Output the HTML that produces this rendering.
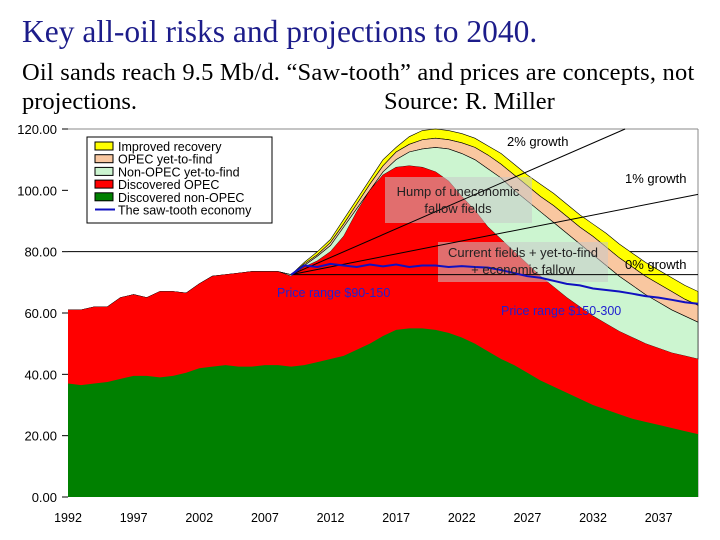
<!DOCTYPE html>
<html><head><meta charset="utf-8"><style>
body{margin:0;width:720px;height:540px;overflow:hidden;background:#fff;font-family:"Liberation Sans",sans-serif}
.t{position:absolute;font-family:"Liberation Serif",serif;white-space:nowrap}
</style></head><body>
<div class="t" style="left:22px;top:14px;font-size:31.5px;color:#1c1c8a">Key all-oil risks and projections to 2040.</div>
<div class="t" style="left:22px;top:58px;font-size:24.5px;line-height:29px;color:#000;letter-spacing:0.2px">Oil sands reach 9.5 Mb/d. “Saw-tooth” and prices are concepts, not</div>
<div class="t" style="left:22px;top:87px;font-size:24.5px;line-height:29px;color:#000">projections.</div>
<div class="t" style="left:384px;top:87px;font-size:24.5px;line-height:29px;color:#000">Source: R. Miller</div>
<svg id="c" width="720" height="540" style="position:absolute;left:0;top:0" xmlns="http://www.w3.org/2000/svg">
<rect x="0" y="114" width="720" height="426" fill="#fff"/>
</svg>
<script>
const years=[1992,1993,1994,1995,1996,1997,1998,1999,2000,2001,2002,2003,2004,2005,2006,2007,2008,2009,2010,2011,2012,2013,2014,2015,2016,2017,2018,2019,2020,2021,2022,2023,2024,2025,2026,2027,2028,2029,2030,2031,2032,2033,2034,2035,2036,2037,2038,2039,2040];
const nonOpec=[37,36.5,37,37.5,38.5,39.5,39.5,39,39.5,40.5,42,42.5,43,42.5,42.5,43,43,42.5,43,44,45,46,48,50,52.5,54.5,55,55,54.5,53.5,52,50,47.5,45,43,40.5,38,36,34,32,30,28.5,27,25.5,24.5,23.5,22.5,21.5,20.5];
const opecTop=[61,61,62,62,65,66,65,67,67,66.5,69.5,72,72.5,73,73.5,73.5,73.5,72,75,77,80,85,93,100,105,107.5,108,107.5,106,103,98,93.5,88,84,80,76,72,68.5,65,62,59,56.5,54,52,50,48.5,47,46,45];
const nonOpecYtfTop=[61,61,62,62,65,66,65,67,67,66.5,69.5,72,72.5,73,73.5,73.5,73.5,72.5,75.5,78.5,82,88,94,100,106,110,112.5,113.5,114,113.5,112,110,107,104,100,96.5,93,89.5,86,82.5,79,75.5,72,69,66,63.5,61,59,57];
const opecYtfTop=[61,61,62,62,65,66,65,67,67,66.5,69.5,72,72.5,73,73.5,73.5,73.5,72.5,76,79,83,89,95.5,102,108,112.5,115,116.5,117,116.5,115.5,114,111.5,108.5,105,101.5,98,95,91.5,88,85,81.5,78,75,72,69.5,67,64.5,62.5];
const recoveryTop=[61,61,62,62,65,66,65,67,67,66.5,69.5,72,72.5,73,73.5,73.5,73.5,72.5,76.5,80,84,90.5,97,103.5,110,114,117.5,119.5,120,119.5,118.5,117,114.5,112,108.5,105,102,99,95.5,92,89,86,82.5,79.5,76.5,74,71.5,69,67];
const sawYears=[2009,2010,2011,2012,2013,2014,2015,2016,2017,2018,2019,2020,2021,2022,2023,2024,2025,2026,2027,2028,2029,2030,2031,2032,2033,2034,2035,2036,2037,2038,2039,2040];
const sawValues=[72.5,75.5,75,76,75.5,75,75.8,75.2,75.8,75,75.5,75.5,75,75.3,75,74.8,74,73,72,71.5,70.5,69.5,69,68,67.5,67,66.3,65.5,65,64.3,63.5,63];
const yTicks=[0,20,40,60,80,100,120];
const xTicks=[1992,1997,2002,2007,2012,2017,2022,2027,2032,2037];
const growthRates=[0,1,2];
const growthBase=[2009,72.5];

const X0=68,X1=698,Y0=497,Y1=129;
const x=y=>X0+(y-1992)*(X1-X0)/(2040-1992);
const yv=v=>Y0-v*(Y0-Y1)/120;
const svg=document.getElementById('c');const NS='http://www.w3.org/2000/svg';
function mk(t,a){const e=document.createElementNS(NS,t);for(const k in a)e.setAttribute(k,a[k]);svg.appendChild(e);return e;}
function area(top,bot,fill,name){let d='M'+years.map((yr,i)=>x(yr)+','+yv(top[i])).join('L');
 for(let i=years.length-1;i>=0;i--)d+='L'+x(years[i])+','+yv(bot?bot[i]:0);
 const p=mk('path',{d:d+'Z',fill:fill,stroke:bot?'#000':'none','stroke-width':bot?0.6:0});
 }
[80,120].forEach(v=>{const l=mk('line',{x1:X0,x2:X1,y1:yv(v),y2:yv(v),stroke:v==120?'#888':'#000','stroke-width':1});});
mk('line',{x1:X1,x2:X1,y1:Y1,y2:Y0,stroke:'#888'});
area(recoveryTop,opecYtfTop,'#ffff00','area-improved-recovery');
area(opecYtfTop,nonOpecYtfTop,'#f9c7a0','area-opec-yet-to-find');
area(nonOpecYtfTop,opecTop,'#ccf5d0','area-non-opec-yet-to-find');
area(opecTop,null,'#ff0000','area-discovered-opec');
area(nonOpec,null,'#008000','area-discovered-non-opec');
[[385,177,147,46],[438,242,170,40]].forEach((b,i)=>{const r=mk('rect',{x:b[0],y:b[1],width:b[2],height:b[3],fill:'#c8c8c8','fill-opacity':0.55});});
growthRates.forEach(r=>{let ye=2040,ve=growthBase[1]*Math.pow(1+r/100,2040-growthBase[0]);
 if(ve>120){ye=growthBase[0]+Math.log(120/growthBase[1])/Math.log(1+r/100);ve=120;}
 const l=mk('line',{x1:x(growthBase[0]),y1:yv(growthBase[1]),x2:x(ye),y2:yv(ve),stroke:'#000','stroke-width':1});
 });
const sp=mk('polyline',{points:sawYears.map((yr,i)=>x(yr)+','+yv(sawValues[i])).join(' '),fill:'none',stroke:'#1010c0','stroke-width':2});

yTicks.forEach(v=>{mk('line',{x1:62,x2:68,y1:yv(v),y2:yv(v),stroke:'#000'});
 const t=mk('text',{x:57,y:yv(v)+5,'text-anchor':'end','font-size':13,'font-family':'Liberation Sans'});t.textContent=v.toFixed(2);
 });
xTicks.forEach(v=>{const t=mk('text',{x:x(v),y:522,'text-anchor':'middle','font-size':12.5,'font-family':'Liberation Sans'});t.textContent=v;
 });
function txt(s,xx,yy,fs,col,name,anchor){const t=mk('text',{x:xx,y:yy,'font-size':fs,fill:col,'font-family':'Liberation Sans','text-anchor':anchor||'start'});t.textContent=s;}
txt('Hump of uneconomic',458,196,13,'#222','hump-label','middle');
txt('fallow fields',458,213,13,'#222','hump-label-2','middle');
txt('Current fields + yet-to-find',523,257,13,'#222','current-fields-label','middle');
txt('+ economic fallow',523,274,13,'#222','current-fields-label-2','middle');
txt('2% growth',507,146,13,'#000','label-2pct');
txt('1% growth',625,183,13,'#000','label-1pct');
txt('0% growth',625,269,13,'#000','label-0pct');
txt('Price range $90-150',277,297,12.5,'#2020d0','price-range-1');
txt('Price range $150-300',501,315,12.5,'#2020d0','price-range-2');
const lg=mk('rect',{x:87,y:137,width:185,height:86,fill:'#fff',stroke:'#000'});
const L=[['Improved recovery','#ffff00'],['OPEC yet-to-find','#f9c7a0'],['Non-OPEC yet-to-find','#ccf5d0'],['Discovered OPEC','#ff0000'],['Discovered non-OPEC','#008000'],['The saw-tooth economy',null]];
L.forEach((e,i)=>{const yy=142+i*12.7;
 if(e[1]){const r=mk('rect',{x:95,y:yy,width:18,height:8,fill:e[1],stroke:'#000'});}
 else mk('line',{x1:95,x2:115,y1:yy+4,y2:yy+4,stroke:'#1010c0','stroke-width':2});
 txt(e[0],118,yy+9,12.5,'#000','legend-entry');});
</script>
</body></html>
